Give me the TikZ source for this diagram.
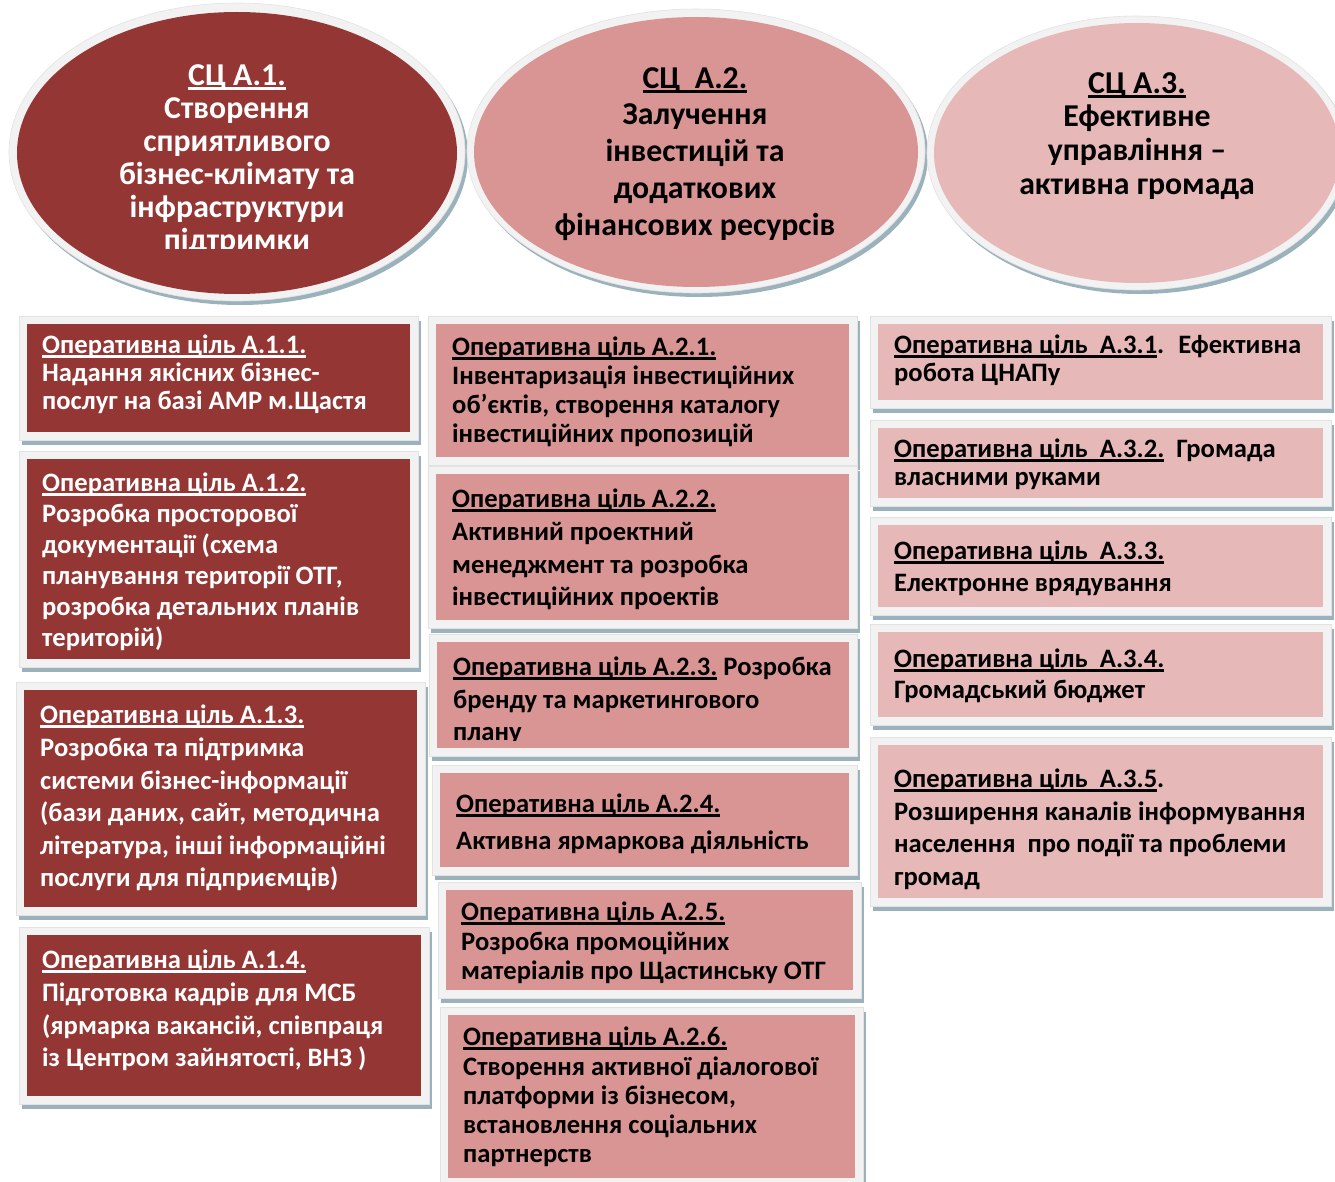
\documentclass[tikz,border=0pt]{standalone}
\usepackage{fontspec}
\setmainfont{Carlito}
\definecolor{darkred}{HTML}{943634}
\definecolor{midred}{HTML}{D99594}
\definecolor{lightred}{HTML}{E6B9B8}
\definecolor{framec}{HTML}{F2F2F2}
\definecolor{framee}{HTML}{E2E2E2}
\definecolor{shadowc}{HTML}{9BB2BC}
\newsavebox\ulbox
\newcommand\myul[1]{\sbox\ulbox{#1}\rlap{\rule[-0.14em]{\wd\ulbox}{0.08em}}\usebox\ulbox}
\newcommand\goalbg[5]{%
  \fill[shadowc] ({#1-5},{#2-3}) rectangle ({#3+11},{#4+13});
  \filldraw[fill=framec,draw=framee,line width=0.6pt] ({#1-8},{#2-8}) rectangle ({#3+8},{#4+8});
  \fill[#5] (#1,#2) rectangle (#3,#4);}
\newcommand\goalell[8]{% cx cy rxo ryo rxi ryi color  dy
  \fill[shadowc] ({#1+3},{#2+4}) ellipse [x radius=#3pt, y radius=#4pt];
  \filldraw[fill=framec,draw=framee,line width=0.6pt] (#1,#2) ellipse [x radius=#3pt, y radius=#4pt];
  \fill[#7] (#1,{#2+#8}) ellipse [x radius=#5pt, y radius=#6pt];}
\tikzset{
  optext/.style={anchor=north west, inner sep=0pt, align=left, font=\bfseries\fontsize{26.6}{#1}\selectfont},
  sctext/.style={anchor=north, inner sep=0pt, align=center, font=\bfseries\fontsize{31.8}{#1}\selectfont},
}
\begin{document}
\begin{tikzpicture}[x=1pt,y=-1pt]
\useasboundingbox (0,0) rectangle (1335,1182);
% ---- strategic goals (ellipses)
\goalell{237}{152}{228}{149}{220}{141}{darkred}{1}
\goalell{696}{151}{229}{142}{222}{135}{midred}{1}
\goalell{1137}{153}{210}{137}{203}{130}{lightred}{0}
\begin{scope}
\clip (0,0) rectangle (470,249);
\node[sctext=33, text=white] (g1) at (237,64) {\myul{СЦ А.1.}\\Створення\\сприятливого\\бізнес-клімату та\\інфраструктури\\підтримки};
\end{scope}
\node[sctext=36.8] (g2) at (695,67) {\myul{СЦ~ А.2.}\\Залучення\\інвестицій та\\додаткових\\фінансових ресурсів};
\node[sctext=33.7] (g3) at (1137,72) {\myul{СЦ А.3.}\\Ефективне\\управління –\\активна громада};
% ---- column 1
\goalbg{27}{324}{410}{432}{darkred}
\node[optext=28, text=white] (a11) at (42,335) {\myul{Оперативна ціль А.1.1.}\\Надання якісних бізнес-\\послуг на базі АМР м.Щастя};
\goalbg{27}{459}{410}{659}{darkred}
\node[optext=31, text=white] (a12) at (42,473) {\myul{Оперативна ціль А.1.2.}\\Розробка просторової\\документації (схема\\планування території ОТГ,\\розробка детальних планів\\територій)};
\goalbg{24}{690}{417}{907}{darkred}
\node[optext=32.6, text=white] (a13) at (40,705) {\myul{Оперативна ціль А.1.3.}\\Розробка та підтримка\\системи бізнес-інформації\\(бази даних, сайт, методична\\література, інші інформаційні\\послуги для підприємців)};
\goalbg{27}{935}{421}{1096}{darkred}
\node[optext=32.7, text=white] (a14) at (42,950) {\myul{Оперативна ціль А.1.4.}\\Підготовка кадрів для МСБ\\(ярмарка вакансій, співпраця\\із Центром зайнятості, ВНЗ )};
% ---- column 2
\goalbg{436}{324}{849}{457}{midred}
\node[optext=29] (a21) at (452,337) {\myul{Оперативна ціль А.2.1.}\\Інвентаризація інвестиційних\\об’єктів, створення каталогу\\інвестиційних пропозицій};
\goalbg{436}{474}{849}{620}{midred}
\node[optext=32.6] (a22) at (452,489) {\myul{Оперативна ціль А.2.2.}\\Активний проектний\\менеджмент та розробка\\інвестиційних проектів};
\goalbg{437}{642}{849}{748}{midred}
\begin{scope}
\clip (437,642) rectangle (849,740);
\node[optext=32.5] (a23) at (453,657) {\myul{Оперативна ціль А.2.3.} Розробка\\бренду та маркетингового\\плану};
\end{scope}
\goalbg{440}{773}{849}{867}{midred}
\node[optext=37] (a24) at (456,794) {\myul{Оперативна ціль А.2.4.}\\Активна ярмаркова діяльність};
\goalbg{446}{890}{853}{990}{midred}
\node[optext=29.5] (a25) at (461,902) {\myul{Оперативна ціль А.2.5.}\\Розробка промоційних\\матеріалів про Щастинську ОТГ};
\goalbg{448}{1015}{855}{1178}{midred}
\node[optext=29.2] (a26) at (463,1027) {\myul{Оперативна ціль А.2.6.}\\Створення активної діалогової\\платформи із бізнесом,\\встановлення соціальних\\партнерств};
% ---- column 3
\goalbg{878}{324}{1323}{400}{lightred}
\node[optext=28] (a31) at (894,335) {\myul{Оперативна ціль~ А.3.1}.~ Ефективна\\робота ЦНАПу};
\goalbg{878}{428}{1323}{498}{lightred}
\node[optext=28] (a32) at (894,439) {\myul{Оперативна ціль~ А.3.2.}~ Громада\\власними руками};
\goalbg{878}{525}{1323}{607}{lightred}
\node[optext=32] (a33) at (894,541) {\myul{Оперативна ціль~ А.3.3.}\\Електронне врядування};
\goalbg{878}{632}{1323}{717}{lightred}
\node[optext=31] (a34) at (894,649) {\myul{Оперативна ціль~ А.3.4.}\\Громадський бюджет};
\goalbg{878}{745}{1323}{898}{lightred}
\node[optext=32.5] (a35) at (894,769) {\myul{Оперативна ціль~ А.3.5}.\\Розширення каналів інформування\\населення~ про події та проблеми\\громад};
\end{tikzpicture}
\end{document}
